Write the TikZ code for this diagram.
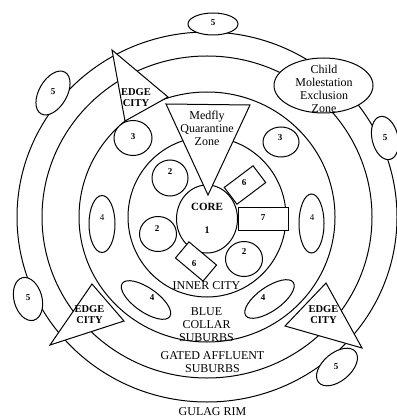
\documentclass[tikz,border=0pt]{standalone}
\usepackage{fontspec}
\setmainfont{Liberation Serif}
\usetikzlibrary{shapes.geometric}

\begin{document}
\begin{tikzpicture}[
  x=1pt, y=-1pt, line width=1pt,
  blob/.style={draw, ellipse, fill=white, inner sep=0pt},
  slab/.style={draw, rectangle, fill=white, inner sep=0pt},
  tri/.style={draw, fill=white, line join=miter},
  num/.style={font=\fontsize{9}{10}\selectfont\bfseries, inner sep=0pt},
  lnum/.style={font=\fontsize{9}{10}\selectfont, inner sep=0pt},
  lb/.style={font=\fontsize{12}{13}\selectfont, align=center, inner sep=0pt},
  ec/.style={font=\fontsize{10.5}{11}\selectfont\bfseries, align=center,
    inner sep=0pt},
]
\useasboundingbox (0,0) rectangle (396,419);
% rings
\coordinate (O) at (207,217);
\draw (O) ellipse [x radius=190, y radius=185];
\draw (O) ellipse [x radius=165, y radius=161];
\draw (O) ellipse [x radius=128, y radius=125];
\draw (O) ellipse [x radius=79, y radius=80];
\node[blob, minimum width=61pt, minimum height=68pt] (core) at (207,219) {};
% triangles
\draw[tri] (166,104) -- (250,105) -- (208,195) -- cycle;
\draw[tri] (112,50) -- (125,121) -- (168,97) -- cycle;
\draw[tri] (92,284) -- (124,321) -- (50,345) -- cycle;
\draw[tri] (326,283) -- (285,326) -- (362,348) -- cycle;
% zones with numbers
\node[blob, minimum width=99pt, minimum height=55pt] (child) at (323.5,85.5) {};
\foreach \i/\t/\s/\x/\y/\w/\h/\r/\lx/\ly in {
    5a/5/num/213/24/50/22/0/213/23, 5b/5/num/53/93/28/48/-30/53/92,
    5c/5/num/385/138/26/44/13/385/138, 5d/5/num/28/299/28/44/15/28/298,
    5e/5/num/337/367/48/28/40/336/367,
    3a/3/num/133/138/38/35/0/133/137, 3b/3/num/281/142/36/30/0/280/138,
    2a/2/num/170/178/36/36/0/170/172, 2b/2/num/158/234/37/35/0/157/229,
    2c/2/num/244/259/37/35/0/244/252,
    4a/4/lnum/102/224/26/57/0/102/218, 4b/4/lnum/311.5/223.5/25/59/0/312/218,
    4c/4/num/146/300/58/24/-35/152/298, 4d/4/num/269.5/299/58/24/35/263/298} {
  \node[blob, minimum width=\w pt, minimum height=\h pt, rotate=\r]
    (Z\i) at (\x,\y) {};
  \node[\s] (N\i) at (\lx,\ly) {\t};
}
\node[slab, minimum width=36pt, minimum height=21pt, rotate=37] (Z6a)
  at (245,185) {};
\node[num] (N6a) at (244,183) {6};
\node[slab, minimum width=36pt, minimum height=21pt, rotate=-40] (Z6b)
  at (196,261.5) {};
\node[num] (N6b) at (194,264) {6};
\node[slab, minimum width=50pt, minimum height=22pt] (Z7) at (263,219) {};
\node[num] (N7) at (263,218) {7};
% labels
\node[lb] (medfly) at (207,128.5) {Medfly\\Quarantine\\Zone};
\node[lb] (childtxt) at (324,88.5) {Child\\Molestation\\Exclusion\\Zone};
\node[ec] (edgeA) at (136,97.5) {EDGE\\CITY};
\node[ec] (edgeB) at (89.5,314.5) {EDGE\\CITY};
\node[ec] (edgeC) at (323.5,314.5) {EDGE\\CITY};
\node[font=\fontsize{11}{12}\selectfont\bfseries, inner sep=0pt] (coretxt)
  at (207,207) {CORE};
\node[font=\fontsize{10}{11}\selectfont\bfseries, inner sep=0pt] (one)
  at (207,230) {1};
\node[lb] (inner) at (206.5,286) {INNER CITY};
\node[lb] (blue) at (206.5,325) {BLUE\\COLLAR\\SUBURBS};
\node[lb] (gated) at (212.5,362) {GATED AFFLUENT\\SUBURBS};
\node[lb] (gulag) at (212.5,412) {GULAG RIM};
\end{tikzpicture}
\end{document}
